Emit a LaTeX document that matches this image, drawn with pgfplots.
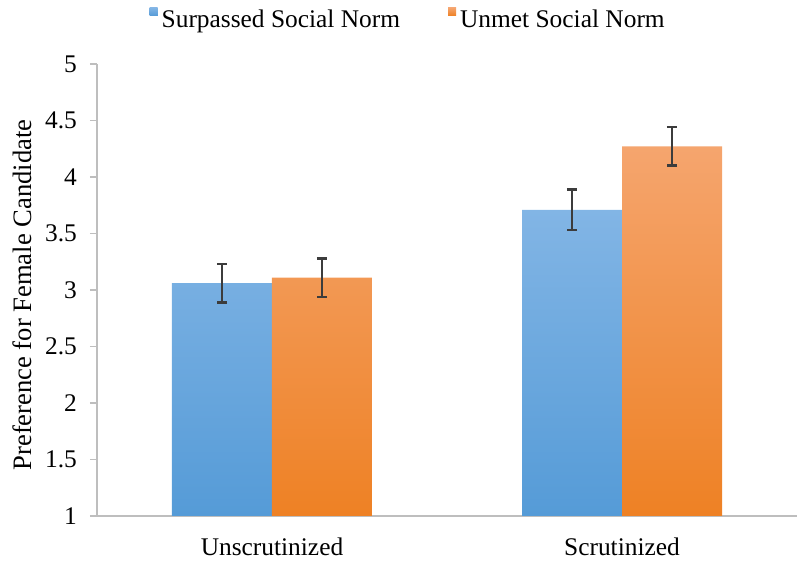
\documentclass[border=0pt]{standalone}
\usepackage{fontspec}
\setmainfont{Liberation Serif}
\usepackage{pgfplots}
\usepackage{pgfplotstable}
\pgfplotsset{compat=1.18}

\definecolor{blueTop}{HTML}{82B5E5}
\definecolor{blueBot}{HTML}{559BD7}
\definecolor{blueMid}{HTML}{5C9FDA}
\definecolor{orangeTop}{HTML}{F5A56E}
\definecolor{orangeBot}{HTML}{EE8124}
\definecolor{orangeMid}{HTML}{F08A33}
\definecolor{axisgray}{HTML}{BEBEBE}
\definecolor{errgray}{HTML}{3C3C3C}

% condition  surpassed  err   unmet  err
\pgfplotstableread{
x surp surperr unmet unmeterr
0 3.06 0.17 3.11 0.17
1 3.71 0.18 4.27 0.17
}\normdata

\begin{document}
\begin{tikzpicture}
\begin{axis}[
  name=ax,
  width=350pt, height=226pt, scale only axis,
  font=\fontsize{12.7}{15}\selectfont,
  ybar, bar width=50pt,
  xmin=-0.5, xmax=1.5,
  % bars rise from the value 1, the foot of the scale
  ymin=0, ymax=4,
  y filter/.expression={y-1},
  axis x line*=bottom, axis y line*=left,
  axis line style={draw=axisgray, line width=0.8pt},
  tick style={draw=axisgray, line width=0.8pt},
  tick align=outside,
  major tick length=3.5pt,
  xtick={0,1},
  xticklabels={Unscrutinized,Scrutinized},
  x tick label style={yshift=-4pt},
  major x tick style={draw=none},
  extra x ticks={-0.5,0.5,1.5},
  extra x tick labels={},
  extra x tick style={major tick length=4pt, tick style={draw=axisgray, line width=0.8pt}},
  ytick={0,0.5,1,1.5,2,2.5,3,3.5,4},
  yticklabels={1,1.5,2,2.5,3,3.5,4,4.5,5},
  y tick label style={xshift=-3pt},
  /pgf/number format/assume math mode=true,
  ylabel={Preference for Female Candidate},
  ylabel style={at={(axis description cs:-0.107,0.489)}, anchor=center,
    font=\fontsize{13.3}{16}\selectfont},
  legend columns=2,
  legend cell align=left,
  legend style={draw=none, fill=none, at={(axis description cs:0.446,1.097)}, anchor=center,
    /tikz/every even column/.append style={column sep=22pt}},
  error bars/y dir=both,
  error bars/y explicit,
  error bars/error bar style={line width=1.2pt, color=errgray},
  error bars/error mark options={rotate=90, mark size=2.6pt, line width=1.2pt, color=errgray},
]
\addplot[draw=none, top color=blueTop, bottom color=blueBot, bar shift=-25pt,
  legend image code/.code={\fill[blueMid] (0pt,2.2pt) rectangle (4pt,6.2pt);}]
  table[x=x, y=surp, y error=surperr]{\normdata};
\addlegendentry{Surpassed Social Norm}
\addplot[draw=none, top color=orangeTop, bottom color=orangeBot, bar shift=25pt,
  legend image code/.code={\fill[orangeMid] (0pt,2.2pt) rectangle (4pt,6.2pt);}]
  table[x=x, y=unmet, y error=unmeterr]{\normdata};
\addlegendentry{Unmet Social Norm}
\end{axis}
\pgfresetboundingbox
\path (ax.south west) ++(-48.5pt,-28pt) coordinate (bl);
\path (ax.north east) ++(1pt,32pt) coordinate (tr);
\path (bl) rectangle (tr);
\end{tikzpicture}
\end{document}
